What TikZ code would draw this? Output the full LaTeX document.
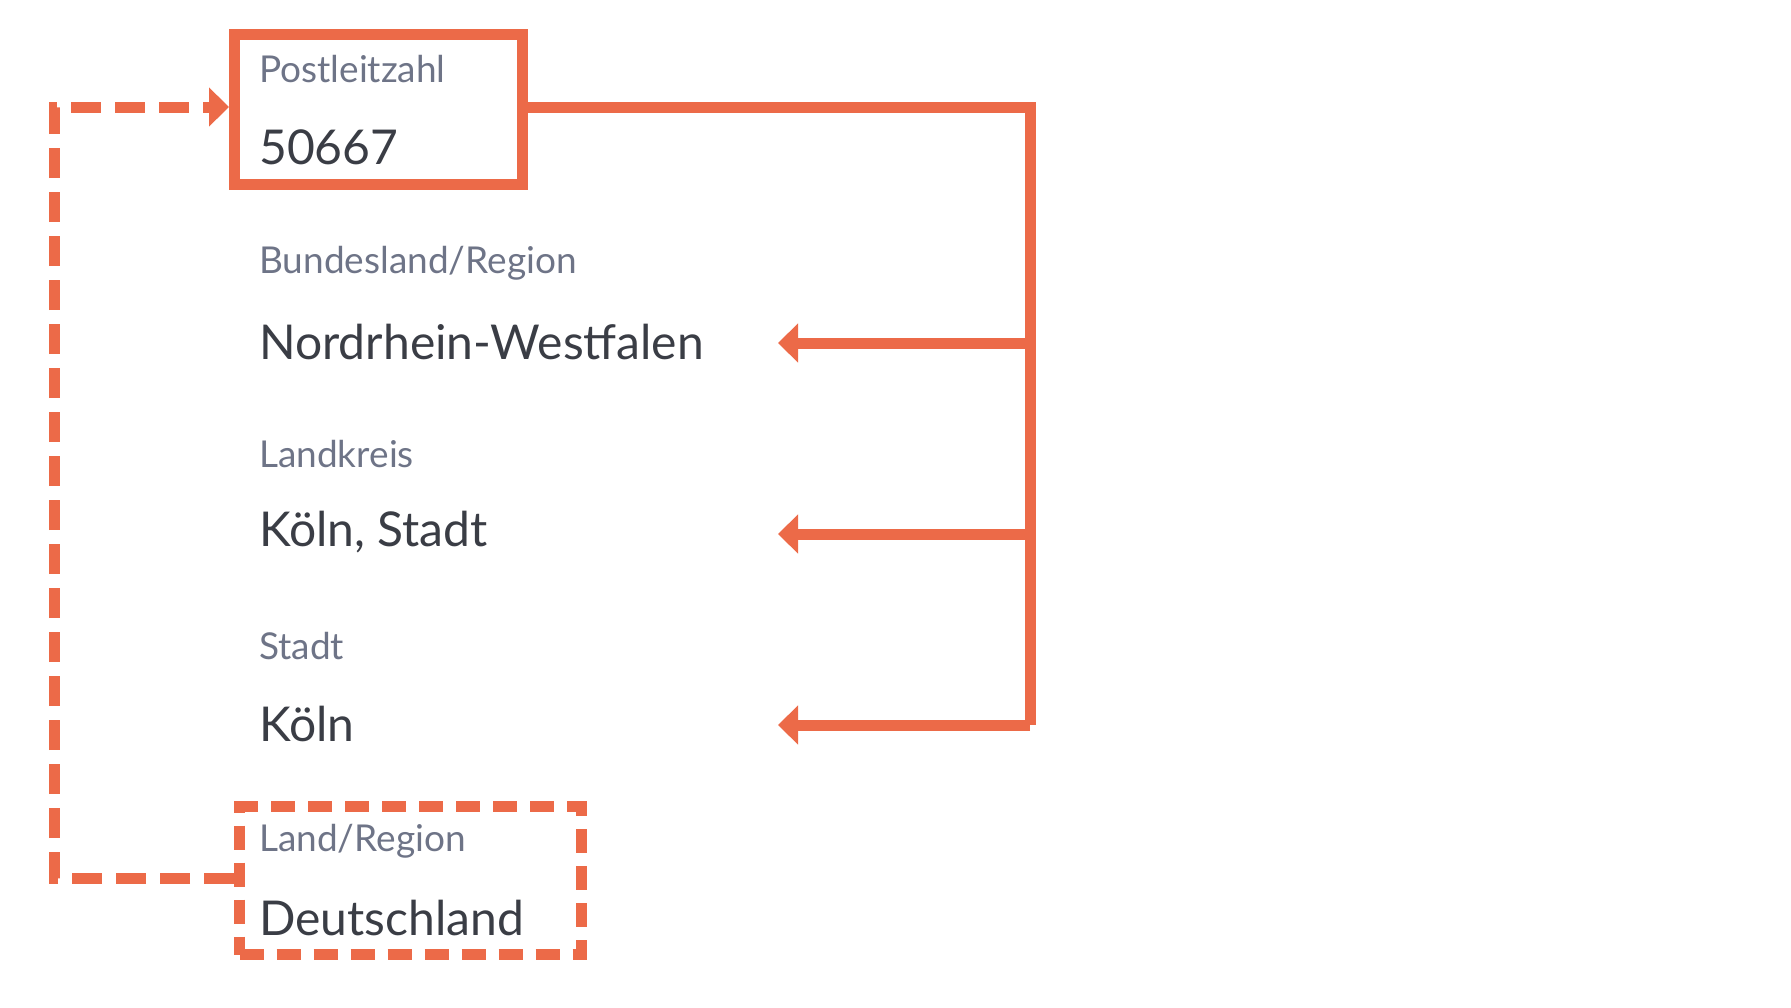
\documentclass[tikz,border=0pt]{standalone}
\usepackage{fontspec}
\setmainfont{Lato}
\usetikzlibrary{arrows.meta}
\definecolor{org}{HTML}{EC6A48}
\definecolor{lab}{HTML}{6E7487}
\definecolor{val}{HTML}{3A3D45}
\begin{document}
\begin{tikzpicture}[x=1pt,y=-1pt,
 lbl/.style={anchor=west,text=lab,font=\fontsize{37}{40}\selectfont,inner sep=0},
 vl/.style={anchor=west,text=val,font=\fontsize{48}{52}\selectfont,inner sep=0},
 ln/.style={draw=org,line width=11pt},
 tip/.style={-{Triangle[length=20pt,width=38pt]}}]
\useasboundingbox (0,0) rectangle (1791,1007);
\node[lbl] (l1) at (259,69) {Postleitzahl};
\node[vl] (v1) at (259,147) {50667};
\node[lbl] (l2) at (259,263) {Bundesland/Region};
\node[vl] (v2) at (259,342) {Nordrhein-Westfalen};
\node[lbl] (l3) at (259,454) {Landkreis};
\node[vl] (v3) at (259,532) {Köln, Stadt};
\node[lbl] (l4) at (259,646) {Stadt};
\node[vl] (v4) at (259,724) {Köln};
\node[lbl] (l5) at (259,841) {Land/Region};
\node[vl] (v5) at (259,918) {Deutschland};
\node[ln,minimum width=288pt,minimum height=150pt,anchor=north west] (b1) at (229,29) {};
\node[draw=org,line width=11pt,dash pattern=on 24pt off 13pt,minimum width=342pt,minimum height=148pt,anchor=north west] (b2) at (234,801) {};
\coordinate (r0) at (1030,107);
\coordinate (r1) at (1030,343);
\coordinate (r2) at (1030,534);
\coordinate (r3) at (1030,725);
\draw[ln] (b1.east |- r0) -- (r0) -- (r3);
\draw[ln,tip] (r1) -- (778,343);
\draw[ln,tip] (r2) -- (778,534);
\draw[ln,tip] (r3) -- (778,725);
\draw[draw=org,line width=11pt,dash pattern=on 30pt off 14pt,tip] (b2.west |- 0,878) -- (54,878) -- (54,107) -- (b1.west |- 0,107);
\end{tikzpicture}
\end{document}
